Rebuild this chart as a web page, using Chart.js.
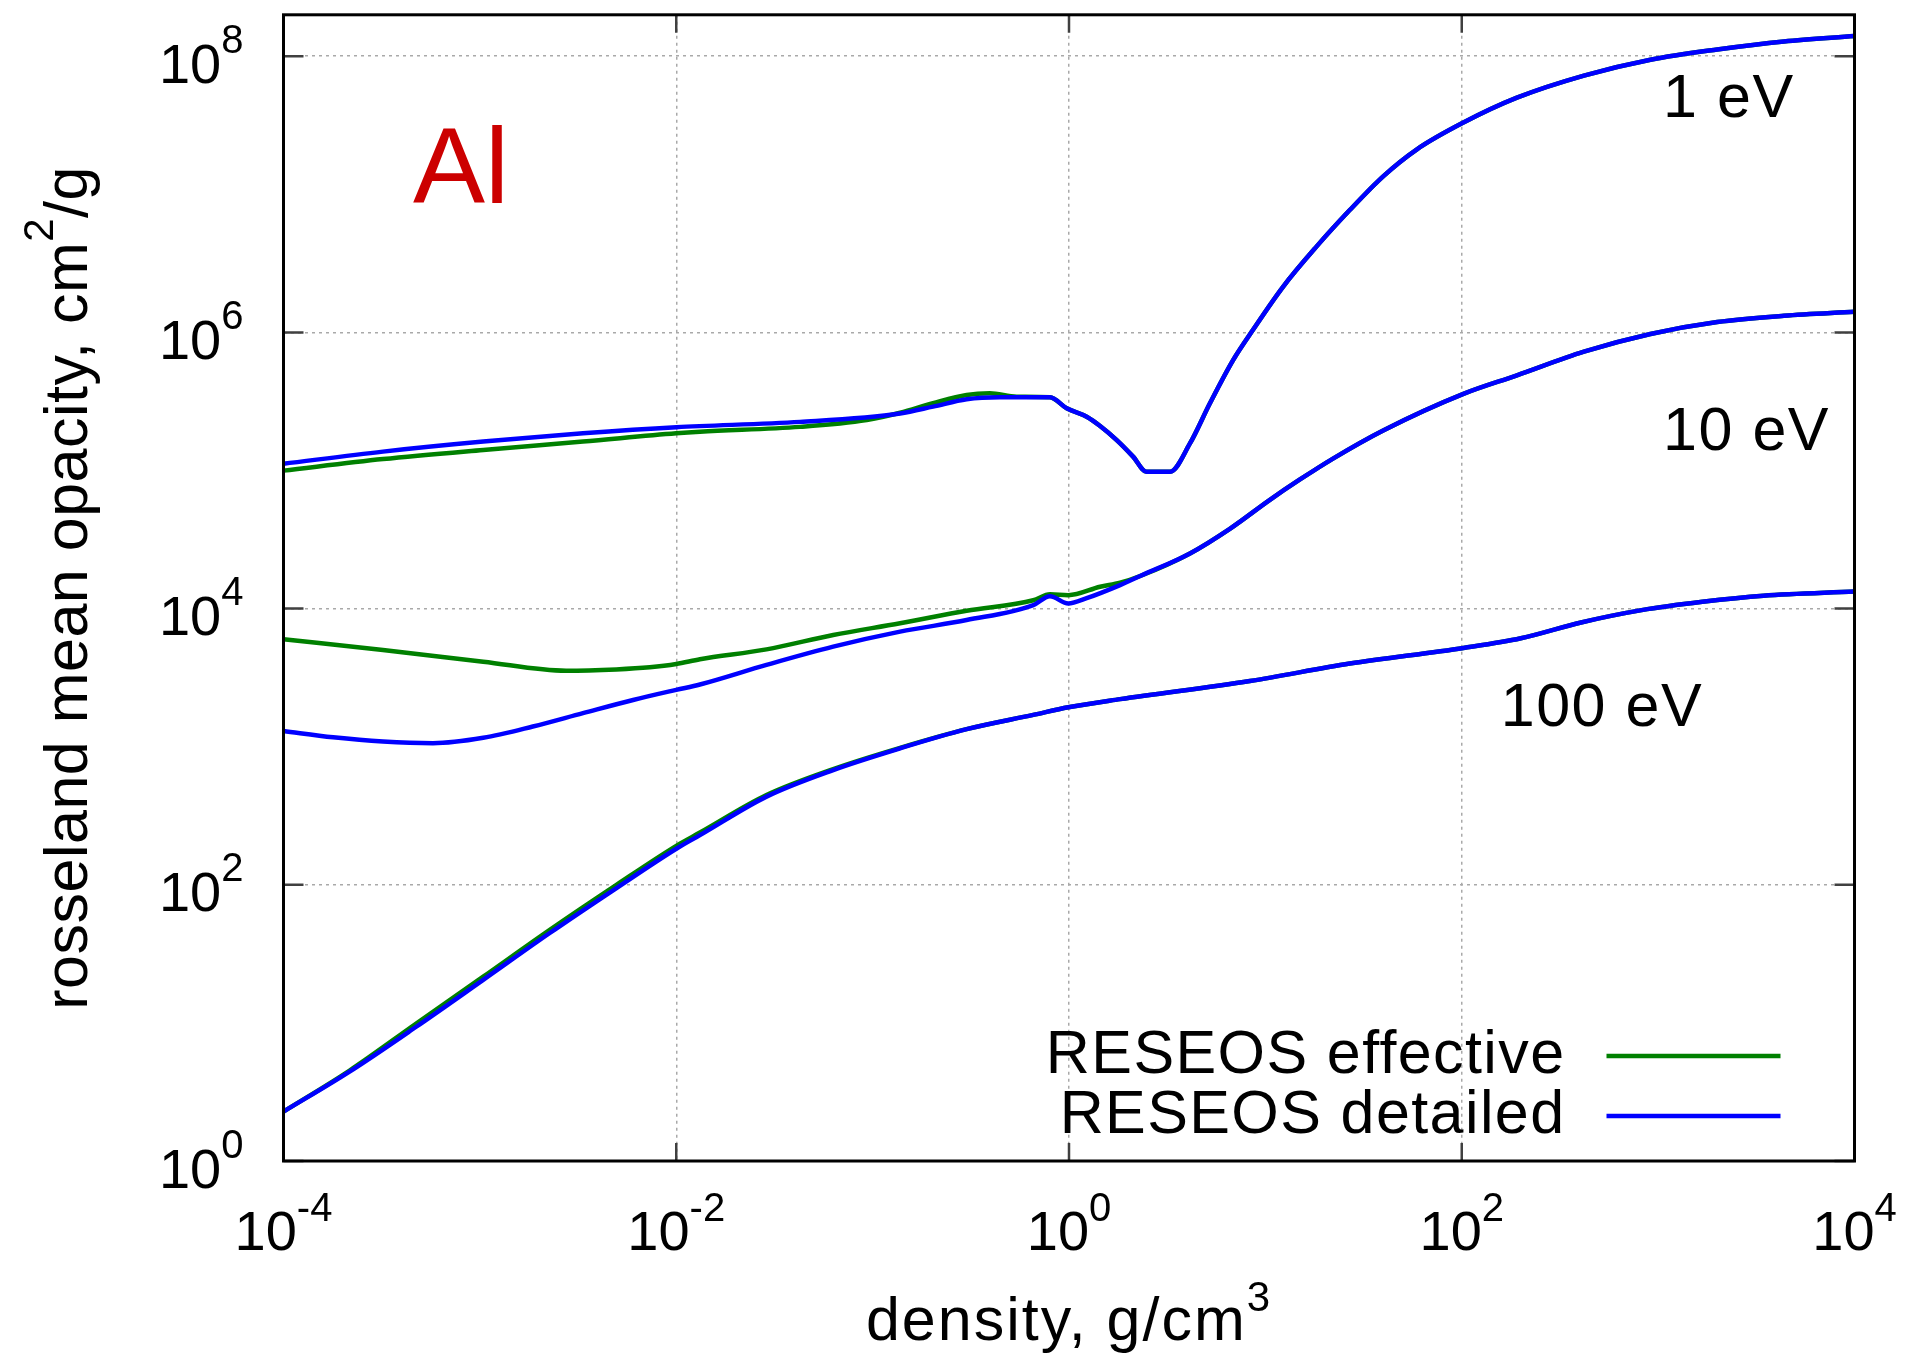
<!DOCTYPE html>
<html>
<head>
<meta charset="utf-8">
<title>Al Rosseland mean opacity</title>
<script src="https://cdn.jsdelivr.net/npm/chart.js@4.4.1/dist/chart.umd.min.js"></script>
<style>
    html, body { margin: 0; padding: 0; background: #ffffff; }
    #chartBox { width: 1907px; height: 1355px; position: relative; }
</style>
</head>
<body>
<div id="chartBox"><canvas id="opacityChart"></canvas></div>
<script>
// Rosseland mean opacity of Al (cm^2/g) against density (g/cm^3)
// "Eff" = RESEOS effective, "Det" = RESEOS detailed

// 1 eV
const dens1eVEff = [1.00e-4, 3.21e-4, 1.04e-3, 3.35e-3, 1.00e-2, 1.32e-2, 4.27e-2, 9.33e-2, 0.138, 0.203, 0.301, 0.395, 0.541, 0.800,
    0.973, 1.23, 1.44, 1.75, 2.12, 2.48, 3.27, 4.13, 5.22, 6.85, 8.67, 12.3, 18.2, 26.9, 39.8, 58.9, 102, 191, 419, 914, 2000, 4370, 1.0e4];
const opac1eVEff = [9.98e4, 1.21e5, 1.41e5, 1.62e5, 1.86e5, 1.91e5, 2.07e5, 2.32e5, 2.62e5, 3.07e5, 3.52e5, 3.62e5, 3.42e5, 3.39e5,
    2.82e5, 2.45e5, 2.10e5, 1.66e5, 1.26e5, 9.79e4, 9.79e4, 1.57e5, 3.07e5, 6.31e5, 1.05e6, 2.14e6, 4.18e6, 7.69e6, 1.35e7, 2.11e7, 3.31e7, 5.01e7, 7.24e7, 9.44e7, 1.12e8, 1.28e8, 1.40e8];
const dens1eVDet = [1.00e-4, 3.21e-4, 1.04e-3, 3.35e-3, 1.00e-2, 4.27e-2, 0.138, 0.203, 0.301, 0.445, 0.800,
    0.973, 1.23, 1.44, 1.75, 2.12, 2.48, 3.27, 4.13, 5.22, 6.85, 8.67, 12.3, 18.2, 26.9, 39.8, 58.9, 102, 191, 419, 914, 2000, 4370, 1.0e4];
const opac1eVDet = [1.12e5, 1.37e5, 1.62e5, 1.86e5, 2.06e5, 2.25e5, 2.59e5, 2.90e5, 3.28e5, 3.39e5, 3.39e5,
    2.82e5, 2.45e5, 2.10e5, 1.66e5, 1.26e5, 9.79e4, 9.79e4, 1.57e5, 3.07e5, 6.31e5, 1.05e6, 2.14e6, 4.18e6, 7.69e6, 1.35e7, 2.11e7, 3.31e7, 5.01e7, 7.24e7, 9.44e7, 1.12e8, 1.28e8, 1.40e8];

// 10 eV
const dens10eVEff = [1.00e-4, 3.21e-4, 1.04e-3, 2.75e-3, 4.95e-3, 7.33e-3, 1.00e-2, 1.32e-2, 2.88e-2, 6.30e-2, 0.138, 0.301, 0.658, 0.800, 0.991, 1.44, 1.82,
    2.32, 4.13, 6.62, 10.5, 15.0, 22.1, 39.8, 102, 191, 419, 914, 2000, 4370, 1.0e4];
const opac10eVEff = [6.00e3, 5.01e3, 4.13e3, 3.55e3, 3.63e3, 3.76e3, 3.97e3, 4.30e3, 5.07e3, 6.44e3, 7.83e3, 9.66e3, 1.15e4, 1.27e4, 1.25e4, 1.44e4, 1.54e4,
    1.73e4, 2.51e4, 3.80e4, 6.11e4, 8.61e4, 1.22e5, 1.95e5, 3.59e5, 4.89e5, 7.26e5, 9.75e5, 1.19e6, 1.32e6, 1.41e6];
const dens10eVDet = [1.00e-4, 1.79e-4, 3.21e-4, 5.77e-4, 1.04e-3, 1.86e-3, 3.35e-3, 6.03e-3, 1.00e-2, 1.32e-2, 2.88e-2, 6.30e-2, 0.138, 0.301, 0.658, 0.800, 0.991, 1.23, 1.82,
    2.32, 4.13, 6.62, 10.5, 15.0, 22.1, 39.8, 102, 191, 419, 914, 2000, 4370, 1.0e4];
const opac10eVDet = [1.30e3, 1.17e3, 1.09e3, 1.06e3, 1.16e3, 1.40e3, 1.75e3, 2.18e3, 2.58e3, 2.82e3, 3.91e3, 5.30e3, 6.81e3, 8.26e3, 1.06e4, 1.23e4, 1.09e4, 1.19e4, 1.48e4,
    1.73e4, 2.51e4, 3.80e4, 6.11e4, 8.61e4, 1.22e5, 1.95e5, 3.59e5, 4.89e5, 7.26e5, 9.75e5, 1.19e6, 1.32e6, 1.41e6];

// 100 eV
const dens100eVEff = [1.00e-4, 2.17e-4, 4.74e-4, 1.04e-3, 2.26e-3, 4.94e-3, 1.01e-2, 1.32e-2, 2.88e-2, 6.30e-2, 0.138,
    0.301, 0.658, 0.991, 1.82, 8.34, 26.9, 102, 200, 405, 824, 1680, 3440, 1.0e4];
const opac100eVEff = [2.28, 4.52, 9.89, 21.6, 47.0, 99.5, 193, 239, 447, 689, 982,
    1340, 1700, 1930, 2210, 2990, 4000, 5190, 6100, 7940, 9750, 1.12e4, 1.24e4, 1.33e4];
const dens100eVDet = [1.00e-4, 2.17e-4, 4.74e-4, 1.04e-3, 2.26e-3, 4.94e-3, 1.01e-2, 1.32e-2, 2.88e-2, 6.30e-2, 0.138,
    0.301, 0.658, 0.991, 1.82, 8.34, 26.9, 102, 200, 405, 824, 1680, 3440, 1.0e4];
const opac100eVDet = [2.28, 4.44, 9.38, 20.5, 44.6, 94.4, 184, 229, 435, 678, 973,
    1340, 1700, 1930, 2210, 2990, 4000, 5190, 6100, 7940, 9750, 1.12e4, 1.24e4, 1.33e4];

// axis ticks (powers of ten)
const densityTicks = [1e-4, 1e-2, 1e0, 1e2, 1e4];
const opacityTicks = [1e0, 1e2, 1e4, 1e6, 1e8];

const seriesNames = ['RESEOS effective', 'RESEOS detailed'];
const curveLabels = [
    { text: '1 eV', x: 1.06e3, y: 3.66e7 },
    { text: '10 eV', x: 1.06e3, y: 1.41e5 },
    { text: '100 eV', x: 158, y: 1.41e3 }
];
const elementLabel = { text: 'Al', x: 4.56e-4, y: 8.65e6 };

const FONT = "'Liberation Sans', Arial, Helvetica, sans-serif";
const GREEN = '#008000';
const BLUE = '#0000ff';

function toPoints(xs, ys) {
    return xs.map((x, i) => ({ x: x, y: ys[i] }));
}

function makeSet(label, xs, ys, color, order) {
    return {
        label: label,
        data: toPoints(xs, ys),
        borderColor: color,
        backgroundColor: color,
        borderWidth: 4.5,
        pointRadius: 0,
        cubicInterpolationMode: 'monotone',
        order: order
    };
}

// writes a base with a raised exponent, e.g. 10^-4
function drawPower(ctx, base, exp, x, y, align, size, expSize, rise) {
    ctx.font = size + 'px ' + FONT;
    const wb = ctx.measureText(base).width;
    ctx.font = expSize + 'px ' + FONT;
    const we = ctx.measureText(exp).width;
    let left = x;
    if (align === 'center') left = x - (wb + we) / 2;
    if (align === 'right') left = x - wb - we;
    ctx.textAlign = 'left';
    ctx.textBaseline = 'alphabetic';
    ctx.font = size + 'px ' + FONT;
    ctx.fillText(base, left, y);
    ctx.font = expSize + 'px ' + FONT;
    ctx.fillText(exp, left + wb, y - rise);
}

const framePlugin = {
    id: 'frame',
    afterDraw(chart) {
        const ctx = chart.ctx;
        const area = chart.chartArea;
        const xs = chart.scales.x;
        const ys = chart.scales.y;
        ctx.save();

        // inward tick marks on all four sides
        ctx.strokeStyle = '#404040';
        ctx.lineWidth = 2.5;
        ctx.beginPath();
        densityTicks.forEach(v => {
            const px = xs.getPixelForValue(v);
            ctx.moveTo(px, area.bottom); ctx.lineTo(px, area.bottom - 18);
            ctx.moveTo(px, area.top); ctx.lineTo(px, area.top + 18);
        });
        opacityTicks.forEach(v => {
            const py = ys.getPixelForValue(v);
            ctx.moveTo(area.left, py); ctx.lineTo(area.left + 20, py);
            ctx.moveTo(area.right, py); ctx.lineTo(area.right - 20, py);
        });
        ctx.stroke();

        // plot border
        ctx.strokeStyle = '#000000';
        ctx.lineWidth = 3;
        ctx.strokeRect(area.left, area.top, area.right - area.left, area.bottom - area.top);

        // tick labels
        ctx.fillStyle = '#000000';
        ctx.letterSpacing = '0px';
        densityTicks.forEach(v => {
            const px = xs.getPixelForValue(v);
            drawPower(ctx, '10', String(Math.round(Math.log10(v))), px, area.bottom + 89, 'center', 56, 40, 29);
        });
        opacityTicks.forEach(v => {
            const py = ys.getPixelForValue(v);
            drawPower(ctx, '10', String(Math.round(Math.log10(v))), area.left - 40, py + 26.5, 'right', 56, 40, 30);
        });

        // axis titles
        const midX = (area.left + area.right) / 2;
        ctx.letterSpacing = '2px';
        drawPower(ctx, 'density, g/cm', '3', midX, area.bottom + 179, 'center', 61, 42, 29);

        ctx.save();
        ctx.letterSpacing = '0.5px';
        ctx.translate(87, (area.top + area.bottom) / 2);
        ctx.rotate(-Math.PI / 2);
        ctx.font = '61px ' + FONT;
        const t1 = 'rosseland mean opacity, cm';
        const t3 = '/g';
        const w1 = ctx.measureText(t1).width;
        const w3 = ctx.measureText(t3).width;
        ctx.font = '42px ' + FONT;
        const w2 = ctx.measureText('2').width;
        const sx = -(w1 + w2 + w3) / 2;
        ctx.textAlign = 'left';
        ctx.textBaseline = 'alphabetic';
        ctx.font = '61px ' + FONT;
        ctx.fillText(t1, sx, 0);
        ctx.font = '42px ' + FONT;
        ctx.fillText('2', sx + w1, -34);
        ctx.font = '61px ' + FONT;
        ctx.fillText(t3, sx + w1 + w2, 0);
        ctx.restore();

        // temperature labels next to the curves
        ctx.letterSpacing = '1.5px';
        ctx.font = '61px ' + FONT;
        ctx.textAlign = 'left';
        curveLabels.forEach(l => {
            ctx.fillText(l.text, xs.getPixelForValue(l.x), ys.getPixelForValue(l.y));
        });

        // element name
        ctx.letterSpacing = '0px';
        ctx.fillStyle = '#cc0000';
        ctx.font = '108px ' + FONT;
        ctx.fillText(elementLabel.text, xs.getPixelForValue(elementLabel.x), ys.getPixelForValue(elementLabel.y));

        // legend: text, then a line sample
        ctx.fillStyle = '#000000';
        ctx.letterSpacing = '1.4px';
        ctx.font = '61px ' + FONT;
        ctx.textAlign = 'right';
        const legendColors = [GREEN, BLUE];
        seriesNames.forEach((name, i) => {
            const base = area.bottom - 88 + i * 60;
            ctx.fillText(name, area.right - 289, base);
            ctx.strokeStyle = legendColors[i];
            ctx.lineWidth = 4.5;
            ctx.beginPath();
            ctx.moveTo(area.right - 248, base - 17);
            ctx.lineTo(area.right - 74, base - 17);
            ctx.stroke();
        });

        ctx.restore();
    }
};

const logAxis = (min, max, ticks) => ({
    type: 'logarithmic',
    min: min,
    max: max,
    afterBuildTicks: scale => { scale.ticks = ticks.map(v => ({ value: v })); },
    ticks: { display: false },
    grid: { color: '#a9a9a9', lineWidth: 1.5, drawTicks: false, tickLength: 0 },
    border: { display: false, dash: [3, 4] }
});

new Chart(document.getElementById('opacityChart'), {
    type: 'line',
    data: {
        datasets: [
            makeSet(seriesNames[0], dens1eVEff, opac1eVEff, GREEN, 1),
            makeSet(seriesNames[0], dens10eVEff, opac10eVEff, GREEN, 1),
            makeSet(seriesNames[0], dens100eVEff, opac100eVEff, GREEN, 1),
            makeSet(seriesNames[1], dens1eVDet, opac1eVDet, BLUE, 0),
            makeSet(seriesNames[1], dens10eVDet, opac10eVDet, BLUE, 0),
            makeSet(seriesNames[1], dens100eVDet, opac100eVDet, BLUE, 0)
        ]
    },
    options: {
        responsive: true,
        maintainAspectRatio: false,
        animation: false,
        devicePixelRatio: 1,
        layout: { padding: { left: 283.5, right: 52.5, top: 14.8, bottom: 194 } },
        scales: {
            x: logAxis(1e-4, 1e4, densityTicks),
            y: logAxis(1, 1.995e8, opacityTicks)
        },
        plugins: {
            legend: { display: false },
            tooltip: { enabled: false }
        }
    },
    plugins: [framePlugin]
});
</script>
</body>
</html>
